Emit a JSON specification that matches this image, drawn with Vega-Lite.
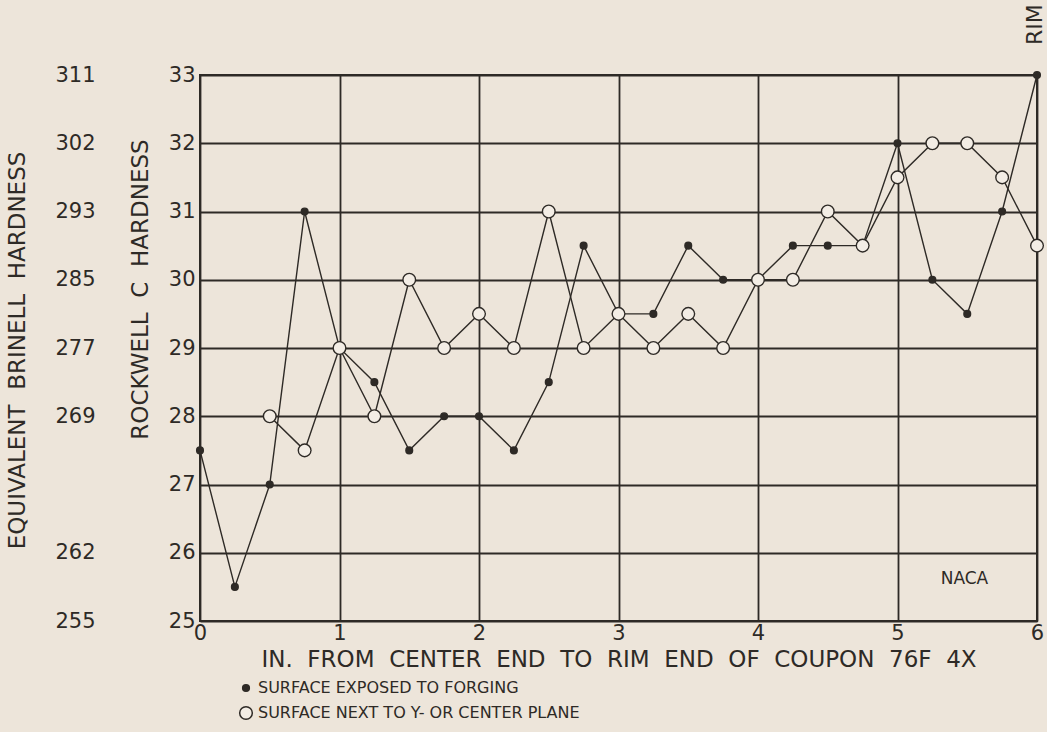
{
  "$schema": "https://vega.github.io/schema/vega-lite/v6.json",
  "width": 837,
  "height": 546,
  "autosize": {"type": "none"},
  "padding": {"left": 200, "top": 75, "right": 10, "bottom": 111},
  "background": "#ede5da",
  "config": {
    "font": "DejaVu Sans",
    "view": {"stroke": "#2e2a26", "strokeWidth": 2},
    "axis": {"labelColor": "#2e2a26", "titleColor": "#2e2a26", "titleFontWeight": "normal"}
  },
  "datasets": {
    "pts": [
      {"x": 0, "rc": 27.5, "s": "SURFACE EXPOSED TO FORGING"},
      {"x": 0.25, "rc": 25.5, "s": "SURFACE EXPOSED TO FORGING"},
      {"x": 0.5, "rc": 27, "s": "SURFACE EXPOSED TO FORGING"},
      {"x": 0.75, "rc": 31, "s": "SURFACE EXPOSED TO FORGING"},
      {"x": 1, "rc": 29, "s": "SURFACE EXPOSED TO FORGING"},
      {"x": 1.25, "rc": 28.5, "s": "SURFACE EXPOSED TO FORGING"},
      {"x": 1.5, "rc": 27.5, "s": "SURFACE EXPOSED TO FORGING"},
      {"x": 1.75, "rc": 28, "s": "SURFACE EXPOSED TO FORGING"},
      {"x": 2, "rc": 28, "s": "SURFACE EXPOSED TO FORGING"},
      {"x": 2.25, "rc": 27.5, "s": "SURFACE EXPOSED TO FORGING"},
      {"x": 2.5, "rc": 28.5, "s": "SURFACE EXPOSED TO FORGING"},
      {"x": 2.75, "rc": 30.5, "s": "SURFACE EXPOSED TO FORGING"},
      {"x": 3, "rc": 29.5, "s": "SURFACE EXPOSED TO FORGING"},
      {"x": 3.25, "rc": 29.5, "s": "SURFACE EXPOSED TO FORGING"},
      {"x": 3.5, "rc": 30.5, "s": "SURFACE EXPOSED TO FORGING"},
      {"x": 3.75, "rc": 30, "s": "SURFACE EXPOSED TO FORGING"},
      {"x": 4, "rc": 30, "s": "SURFACE EXPOSED TO FORGING"},
      {"x": 4.25, "rc": 30.5, "s": "SURFACE EXPOSED TO FORGING"},
      {"x": 4.5, "rc": 30.5, "s": "SURFACE EXPOSED TO FORGING"},
      {"x": 4.75, "rc": 30.5, "s": "SURFACE EXPOSED TO FORGING"},
      {"x": 5, "rc": 32, "s": "SURFACE EXPOSED TO FORGING"},
      {"x": 5.25, "rc": 30, "s": "SURFACE EXPOSED TO FORGING"},
      {"x": 5.5, "rc": 29.5, "s": "SURFACE EXPOSED TO FORGING"},
      {"x": 5.75, "rc": 31, "s": "SURFACE EXPOSED TO FORGING"},
      {"x": 6, "rc": 33, "s": "SURFACE EXPOSED TO FORGING"},
      {"x": 0.5, "rc": 28, "s": "SURFACE NEXT TO Y- OR CENTER PLANE"},
      {"x": 0.75, "rc": 27.5, "s": "SURFACE NEXT TO Y- OR CENTER PLANE"},
      {"x": 1, "rc": 29, "s": "SURFACE NEXT TO Y- OR CENTER PLANE"},
      {"x": 1.25, "rc": 28, "s": "SURFACE NEXT TO Y- OR CENTER PLANE"},
      {"x": 1.5, "rc": 30, "s": "SURFACE NEXT TO Y- OR CENTER PLANE"},
      {"x": 1.75, "rc": 29, "s": "SURFACE NEXT TO Y- OR CENTER PLANE"},
      {"x": 2, "rc": 29.5, "s": "SURFACE NEXT TO Y- OR CENTER PLANE"},
      {"x": 2.25, "rc": 29, "s": "SURFACE NEXT TO Y- OR CENTER PLANE"},
      {"x": 2.5, "rc": 31, "s": "SURFACE NEXT TO Y- OR CENTER PLANE"},
      {"x": 2.75, "rc": 29, "s": "SURFACE NEXT TO Y- OR CENTER PLANE"},
      {"x": 3, "rc": 29.5, "s": "SURFACE NEXT TO Y- OR CENTER PLANE"},
      {"x": 3.25, "rc": 29, "s": "SURFACE NEXT TO Y- OR CENTER PLANE"},
      {"x": 3.5, "rc": 29.5, "s": "SURFACE NEXT TO Y- OR CENTER PLANE"},
      {"x": 3.75, "rc": 29, "s": "SURFACE NEXT TO Y- OR CENTER PLANE"},
      {"x": 4, "rc": 30, "s": "SURFACE NEXT TO Y- OR CENTER PLANE"},
      {"x": 4.25, "rc": 30, "s": "SURFACE NEXT TO Y- OR CENTER PLANE"},
      {"x": 4.5, "rc": 31, "s": "SURFACE NEXT TO Y- OR CENTER PLANE"},
      {"x": 4.75, "rc": 30.5, "s": "SURFACE NEXT TO Y- OR CENTER PLANE"},
      {"x": 5, "rc": 31.5, "s": "SURFACE NEXT TO Y- OR CENTER PLANE"},
      {"x": 5.25, "rc": 32, "s": "SURFACE NEXT TO Y- OR CENTER PLANE"},
      {"x": 5.5, "rc": 32, "s": "SURFACE NEXT TO Y- OR CENTER PLANE"},
      {"x": 5.75, "rc": 31.5, "s": "SURFACE NEXT TO Y- OR CENTER PLANE"},
      {"x": 6, "rc": 30.5, "s": "SURFACE NEXT TO Y- OR CENTER PLANE"}
    ],
    "notes": [
      {"x": 6, "rc": 33, "label": "RIM"}
    ],
    "logo": [
      {"x": 5.48, "rc": 25.62, "label": "NACA"}
    ]
  },
  "layer": [
    {
      "layer": [
        {
          "data": {"name": "pts"},
          "mark": {"type": "line", "color": "#2e2a26", "strokeWidth": 1.4},
          "encoding": {
            "x": {
              "field": "x", "type": "quantitative",
              "scale": {"domain": [0, 6], "nice": false, "zero": false},
              "axis": {
                "values": [0, 1, 2, 3, 4, 5, 6], "format": "d", "labelFlush": false,
                "grid": true, "gridColor": "#2e2a26", "gridWidth": 1.8, "gridOpacity": 1,
                "tickSize": 0, "domain": false,
                "labelFontSize": 21, "labelPadding": 1,
                "title": "IN.\u00a0 FROM\u00a0 CENTER\u00a0 END\u00a0 TO\u00a0 RIM\u00a0 END\u00a0 OF\u00a0 COUPON\u00a0 76F\u00a0 4X",
                "titleFontSize": 23, "titlePadding": 5, "titleLimit": 0
              }
            },
            "y": {
              "field": "rc", "type": "quantitative",
              "scale": {"domain": [25, 33], "nice": false, "zero": false},
              "axis": {
                "values": [25, 26, 27, 28, 29, 30, 31, 32, 33], "format": "d", "labelFlush": false,
                "grid": true, "gridColor": "#2e2a26", "gridWidth": 1.8, "gridOpacity": 1,
                "tickSize": 0, "domain": false,
                "labelFontSize": 21, "labelPadding": 5,
                "title": "ROCKWELL\u00a0 C\u00a0 HARDNESS",
                "titleFontSize": 23, "titleAngle": 270, "titleLimit": 0,
                "titleX": -60, "titleY": 214, "titleAlign": "center", "titleBaseline": "middle"
              }
            },
            "detail": {"field": "s"}
          }
        },
        {
          "data": {"name": "pts"},
          "mark": {"type": "point", "filled": false, "strokeWidth": 1.4, "opacity": 1},
          "encoding": {
            "x": {"field": "x", "type": "quantitative"},
            "y": {"field": "rc", "type": "quantitative"},
            "fill": {
              "field": "s", "type": "nominal",
              "scale": {"range": ["#2e2a26", "#f3ede5"]},
              "legend": {
                "title": null, "orient": "none", "legendX": 38, "legendY": 605,
                "labelFontSize": 16, "labelColor": "#2e2a26", "rowPadding": 7, "labelLimit": 0
              }
            },
            "stroke": {
              "field": "s", "type": "nominal",
              "scale": {"range": ["#2e2a26", "#2e2a26"]},
              "legend": {
                "title": null, "orient": "none", "legendX": 38, "legendY": 605,
                "labelFontSize": 16, "labelColor": "#2e2a26", "rowPadding": 7, "labelLimit": 0
              }
            },
            "size": {
              "field": "s", "type": "nominal",
              "scale": {"range": [45, 160]},
              "legend": {
                "title": null, "orient": "none", "legendX": 38, "legendY": 605,
                "labelFontSize": 16, "labelColor": "#2e2a26", "rowPadding": 7, "labelLimit": 0
              }
            }
          }
        },
        {
          "data": {"name": "notes"},
          "mark": {"type": "text", "angle": 270, "align": "left", "baseline": "middle", "dx": 30, "dy": -2, "fontSize": 22, "color": "#2e2a26"},
          "encoding": {
            "x": {"field": "x", "type": "quantitative"},
            "y": {"field": "rc", "type": "quantitative"},
            "text": {"field": "label"}
          }
        },
        {
          "data": {"name": "logo"},
          "mark": {"type": "text", "align": "center", "baseline": "middle", "fontSize": 17, "color": "#2e2a26"},
          "encoding": {
            "x": {"field": "x", "type": "quantitative"},
            "y": {"field": "rc", "type": "quantitative"},
            "text": {"field": "label"}
          }
        }
      ]
    },
    {
      "data": {"name": "notes"},
      "mark": {"type": "point", "opacity": 0},
      "encoding": {
        "x": {"field": "x", "type": "quantitative"},
        "y": {
          "field": "rc", "type": "quantitative",
          "scale": {"domain": [25, 33], "nice": false, "zero": false},
          "axis": {
            "orient": "left", "offset": 100,
            "values": [25, 26, 28, 29, 30, 31, 32, 33], "labelFlush": false,
            "labelExpr": "datum.value == 33 ? '311' : datum.value == 32 ? '302' : datum.value == 31 ? '293' : datum.value == 30 ? '285' : datum.value == 29 ? '277' : datum.value == 28 ? '269' : datum.value == 26 ? '262' : '255'",
            "grid": false, "domain": false, "tickSize": 0,
            "labelFontSize": 21, "labelPadding": 5,
            "title": "EQUIVALENT\u00a0 BRINELL\u00a0 HARDNESS",
            "titleFontSize": 23, "titleAngle": 270, "titleLimit": 0,
            "titleX": -83, "titleY": 275, "titleAlign": "center", "titleBaseline": "middle"
          }
        }
      }
    }
  ],
  "resolve": {"scale": {"y": "independent"}}
}
